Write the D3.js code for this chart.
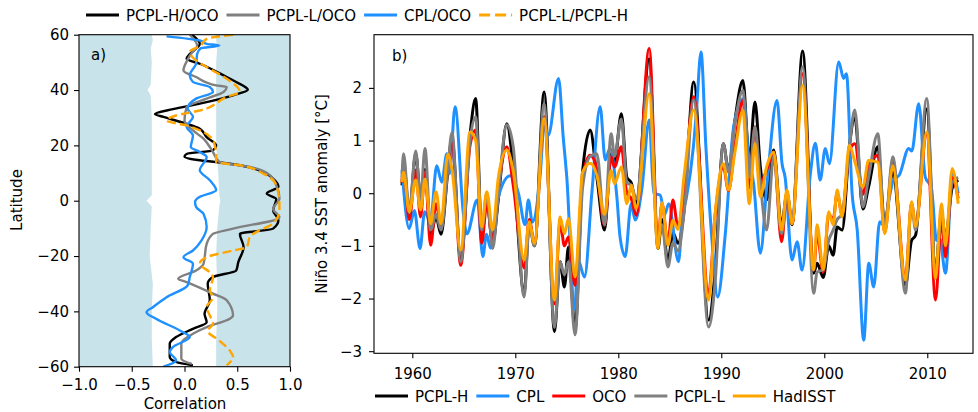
<!DOCTYPE html>
<html>
<head>
<meta charset="utf-8">
<script src="https://cdn.jsdelivr.net/npm/d3@7"></script>
<style>
  body { margin: 0; background: #fff; }
  text { font-family: "DejaVu Sans", sans-serif; }
</style>
</head>
<body>
<svg id="fig" width="978" height="412"></svg>
<script>
// ---- panel a: correlation vs latitude ----
var shadeLat = [-60, -50, -40, -30, -20, -10, -2, 0, 2, 10, 20, 30, 38, 40, 42, 50, 55, 58, 60];
var shadeLo = [-0.30, -0.31, -0.31, -0.30, -0.33, -0.32, -0.31, -0.36, -0.31, -0.31, -0.31, -0.31, -0.32, -0.35, -0.32, -0.31, -0.32, -0.30, -0.31];
var shadeHi = [0.30, 0.30, 0.31, 0.31, 0.30, 0.31, 0.33, 0.34, 0.33, 0.32, 0.30, 0.30, 0.30, 0.30, 0.30, 0.30, 0.31, 0.30, 0.30];

var latHO = [60, 56.7, 53, 51.3, 49.5, 44.7, 42.9, 40.1, 38.1, 35.1, 33.1, 31.3, 30.3, 27.8, 26, 23, 20, 18.2, 16.9, 16, 14.6, 14, 12.8, 10.4, 8, 5, 2.6, 0.6, -3.5, -7.1, -10.1, -12, -16.8, -22.2, -25.2, -27.6, -30, -36, -40.9, -43.9, -46.3, -49.3, -51.7, -56.5, -58.3, -59.5];
var corrHO = [0.07, 0.145, 0.05, 0.02, 0.145, 0.40, 0.49, 0.60, 0.46, 0.145, -0.11, -0.28, -0.20, 0.02, 0.145, 0.21, 0.30, 0.27, 0.02, 0.0, 0.145, 0.30, 0.525, 0.746, 0.84, 0.89, 0.78, 0.87, 0.84, 0.89, 0.84, 0.525, 0.56, 0.51, 0.49, 0.27, 0.22, 0.24, 0.19, 0.21, 0.08, -0.08, -0.14, -0.14, -0.08, 0.08];

var latLO = [60, 56, 53, 51, 47.1, 44.7, 41.7, 41.1, 39.3, 36.9, 33.8, 29, 25.4, 22.4, 19.4, 17.6, 14, 12.2, 9.2, 5.6, 0.8, -3, -6, -10.1, -12, -15.6, -22.8, -25.2, -28.2, -29.4, -33.6, -36, -41.5, -42.7, -45.7, -48.1, -51.7, -57.1, -59];
var corrLO = [0.05, 0.12, 0.06, 0.03, -0.01, 0.11, 0.30, 0.40, 0.37, 0.21, 0.02, 0.0, 0.08, 0.18, 0.24, 0.27, 0.33, 0.62, 0.81, 0.87, 0.90, 0.84, 0.90, 0.46, 0.27, 0.21, 0.18, 0.11, -0.06, 0.02, 0.27, 0.40, 0.46, 0.43, 0.21, 0.08, -0.03, -0.03, 0.07];

var latCO = [59.4, 57.9, 56.7, 56.1, 55, 53, 49.5, 45.3, 42.9, 41.1, 39.3, 36.9, 33.3, 30.3, 26.7, 23.6, 19.4, 17.6, 15.8, 11.0, 7.4, 3.8, 1.4, -0.4, -2.3, -4.7, -9.5, -14.4, -18, -20.4, -22.8, -27.6, -30.6, -34.9, -38.5, -40.3, -42.7, -46.9, -49.3, -52.9, -54.7, -57.7, -60];
var corrCO = [-0.17, 0.145, 0.21, 0.33, 0.15, 0.12, 0.11, 0.05, 0.08, 0.24, 0.27, 0.11, 0.03, 0.08, 0.02, 0.08, 0.06, 0.145, 0.21, 0.145, 0.24, 0.30, 0.145, 0.10, 0.11, 0.18, 0.21, 0.16, 0.08, -0.01, 0.08, 0.05, 0.03, -0.17, -0.30, -0.36, -0.27, -0.045, 0.05, -0.11, -0.14, -0.08, -0.20];

var latLH = [60, 58.5, 56, 53.8, 51, 48.3, 44.1, 39.3, 37.5, 32.6, 30.8, 29, 27.2, 24.8, 21.8, 19.4, 17, 14, 12.8, 9.8, 5.6, -1.5, -3.5, -8.3, -10.7, -13.1, -16.8, -18, -20.4, -22.8, -25.9, -27.6, -32.5, -34.9, -38.5, -41.5, -44.5, -47, -50.6, -54.2, -56.5, -59.5];
var corrLH = [0.46, 0.21, 0.15, 0.05, 0.10, 0.21, 0.40, 0.525, 0.40, 0.145, -0.08, -0.17, 0.02, 0.18, 0.27, 0.29, 0.30, 0.30, 0.525, 0.746, 0.87, 0.90, 0.90, 0.84, 0.71, 0.62, 0.59, 0.46, 0.21, 0.145, 0.24, 0.27, 0.24, 0.27, 0.21, 0.24, 0.27, 0.22, 0.33, 0.43, 0.46, 0.40];

// ---- panel b: Nino 3.4 SST anomaly ----
var years = [1959.0, 1959.15, 1959.7, 1960.33, 1960.8, 1961.23, 1961.78, 1962.3, 1962.79, 1963.44, 1963.85, 1964.7, 1965.6, 1966.15, 1966.74, 1967.23, 1967.8, 1968.36, 1969.17, 1969.8,
  1970.86, 1971.35, 1971.86, 1972.8, 1973.8, 1974.35, 1974.77, 1975.16, 1975.8, 1976.53, 1977.27, 1977.92, 1978.66, 1979.31, 1979.63, 1980.3, 1980.83, 1981.25, 1981.74,
  1983.0, 1983.85, 1984.24, 1984.82, 1985.3, 1985.8, 1986.4, 1987.32, 1988.77, 1989.4, 1990.2, 1990.7, 1991.3, 1992.1, 1992.72, 1993.27, 1993.79, 1994.4,
  1995.09, 1995.85, 1996.38, 1996.87, 1997.9, 1998.97, 1999.3, 1999.9, 2000.43, 2000.86, 2001.25, 2001.73, 2002.44, 2002.96, 2003.75, 2004.3,
  2005.2, 2005.87, 2006.65, 2007.88, 2008.47, 2008.86, 2009.95, 2010.8, 2011.38, 2011.77, 2012.42, 2013.0];
var hadisst = [0.21, 0.40, -0.35, 0.25, -0.32, 0.27, -0.58, 0.03, -0.58, 0.74, 0.45, -1.08, 1.16, 1.00, -0.64, 0.03, -0.70, 0.31, 0.82, 0.42,
  -1.27, -0.54, -0.95, 1.42, -2.03, -0.45, -0.77, -0.48, -1.59, 0.40, 0.57, 0.34, -0.40, 0.43, 0.18, 0.50, -0.20, 0.15, -0.29,
  1.89, -1.05, -0.18, -0.99, -0.52, -0.69, 0.35, 1.58, -2.03, -0.40, 0.56, 0.06, 0.75, 1.57, -0.20, 0.94, -0.07, 0.50,
  0.78, -0.70, 0.06, -0.58, 2.05, -1.46, -0.60, -1.45, -0.35, -0.60, 0.06, -0.45, 0.91, 0.60, 0.12, 0.62,
  0.59, -0.77, 0.52, -1.65, -0.16, -0.63, 1.16, -1.62, -0.20, -1.00, 0.47, -0.20];
var pcplH = [0.15, 0.60, -0.40, 0.75, -0.07, 0.45, -0.77, -0.45, -0.78, 0.40, 1.05, -1.25, 1.10, 1.80, -0.80, -0.10, -0.95, -0.10, 1.32, 0.50,
  -1.90, -0.55, -1.00, 1.92, -2.63, -1.30, -1.78, -1.02, -2.60, 0.40, 1.20, 0.30, -0.70, 0.75, 0.60, 1.51, 0.30, 0.20, -0.20,
  2.55, -1.05, -0.50, -1.30, -0.75, -0.95, -0.30, 2.11, -2.41, -1.49, 0.94, 0.43, 1.35, 2.14, 0.63, 1.73, 0.50, -0.13,
  0.82, -0.61, 0.00, -0.60, 2.70, -1.52, -1.33, -1.60, -1.00, -1.18, -0.64, -0.70, 0.90, 1.45, -0.30, 0.12,
  0.88, -0.60, 0.40, -1.75, -0.90, -0.80, 1.60, -1.45, -0.40, -0.85, 0.10, 0.25];
var pcplL = [0.30, 0.75, -0.37, 0.80, -0.13, 0.85, -0.70, -0.40, -0.70, 0.45, 1.15, -1.30, 1.00, 1.45, -0.70, 0.00, -1.05, 0.00, 1.30, 0.88,
  -1.97, -0.60, -1.00, 1.70, -2.55, -1.30, -1.55, -1.30, -2.69, 0.10, 0.70, 0.75, -0.60, 1.13, 0.70, 1.41, 0.20, 0.15, -0.10,
  2.21, -0.90, -0.60, -1.40, -0.95, -1.10, -0.35, 1.77, -2.54, -1.70, 0.94, 0.40, 1.29, 1.95, 0.30, 1.26, 0.20, -0.70,
  0.70, -0.77, -0.01, -0.50, 2.40, -1.90, -1.50, -1.45, -0.90, -0.70, -0.50, -0.40, 0.90, 1.58, -0.26, 0.30,
  1.13, -0.70, 0.69, -1.90, -0.20, -0.70, 1.80, -1.50, -0.35, -0.90, 0.20, 0.30];
var oco = [0.20, 0.50, -0.50, 0.44, -0.45, 0.40, -0.99, -0.20, -0.60, 0.50, 0.95, -1.37, 0.90, 1.20, -0.95, -0.20, -0.90, 0.10, 0.88, 0.15,
  -1.42, -0.50, -0.95, 1.45, -2.10, -0.55, -1.00, -0.83, -1.75, 0.30, 0.72, 0.45, -0.61, 0.69, 0.50, 0.88, 0.00, -0.10, -0.42,
  2.75, -0.90, -0.20, -0.95, -0.13, -0.65, 0.10, 1.83, -1.90, -0.42, 0.50, 0.05, 0.85, 1.76, 0.10, 1.26, 0.20, 0.44,
  0.78, -0.92, 0.00, -0.58, 2.27, -1.46, -0.77, -1.50, -0.40, -0.50, 0.00, -0.40, 0.80, 0.94, -0.02, 0.50,
  0.72, -0.75, 0.60, -1.62, -0.20, -0.60, 1.13, -2.03, -0.50, -1.21, 0.30, -0.10];

var cplYears = [1959.0, 1959.7, 1960.2, 1960.75, 1961.2, 1961.75, 1962.37, 1962.86, 1963.35, 1963.6, 1964.15, 1964.96, 1965.3, 1966.3, 1966.85, 1967.2, 1967.6, 1968.36, 1969.5, 1970.3,
  1970.95, 1971.27, 1971.65, 1972.4, 1972.8, 1973.2, 1974.2, 1974.65, 1975.0, 1975.75, 1976.1, 1976.72, 1977.43, 1978.24, 1978.73, 1979.2, 1979.86, 1980.17, 1980.67,
  1981.25, 1981.64, 1982.3, 1983.0, 1983.45, 1984.07, 1984.5, 1984.9, 1985.85, 1986.2, 1986.6, 1987.3, 1987.6, 1988.03, 1988.5, 1989.1, 1989.65,
  1990.39, 1991.2, 1992.17, 1992.6, 1993.14, 1993.79, 1994.44, 1995.41, 1995.9, 1996.2, 1996.87, 1997.36, 1997.84, 1998.65, 1999.13, 1999.6,
  2000.1, 2000.5, 2001.4, 2001.88, 2002.15, 2002.7, 2003.2, 2003.83, 2004.32, 2004.8, 2005.38, 2005.7, 2006.7, 2007.3, 2008.2, 2008.5,
  2009.17, 2009.8, 2010.4, 2010.9, 2011.2, 2011.77, 2012.45, 2013.0];
var cpl = [0.44, -0.67, -0.33, -1.05, -0.35, -0.55, 0.52, 0.21, 0.75, 0.37, 1.64, -0.39, -0.77, -0.13, -1.20, -0.78, -1.04, -0.07, 0.33, 0.00,
  -0.60, -0.13, -0.55, 0.31, 1.26, 1.10, 2.18, 1.07, 0.30, -2.20, -1.27, -1.59, 0.00, 1.64, 0.63, 0.86, -0.07, -0.83, -1.20,
  -0.20, -0.51, 0.10, 1.39, 0.00, -0.04, -0.40, -0.20, -1.30, -0.45, -0.10, 0.90, 1.60, 2.68, 0.90, -0.90, -1.97,
  -0.77, 1.26, 1.80, 0.80, 0.18, -1.14, 0.18, 1.76, 0.56, 0.30, -1.27, -0.92, -1.46, 0.37, 0.95, 0.25,
  0.85, 0.56, 2.49, 2.18, 2.27, 0.00, -0.70, -2.79, -1.33, -1.78, -0.54, -0.60, 0.24, 0.35, 0.85, 0.80,
  1.70, 0.31, 0.10, -0.90, -0.85, -1.52, 0.40, 0.00];

var xTicksA = [-1, -0.5, 0, 0.5, 1];
var yTicksA = [-60, -40, -20, 0, 20, 40, 60];
var xTicksB = [1960, 1970, 1980, 1990, 2000, 2010];
var yTicksB = [-3, -2, -1, 0, 1, 2];

var fs = 15;
var svg = d3.select("#fig");

function pairs(xs, ys) {
    return xs.map(function (x, i) { return [x, ys[i]]; });
}

function styleAxis(g) {
    g.select(".domain").remove();
    g.selectAll(".tick line").attr("stroke", "#000").attr("stroke-width", 1.1);
    g.selectAll(".tick text").attr("fill", "#000")
        .style("font-family", '"DejaVu Sans", sans-serif').style("font-size", fs + "px");
}

// ================= panel a =================
var xA = d3.scaleLinear().domain([-1, 1]).range([79, 290]);
var yA = d3.scaleLinear().domain([-60, 60]).range([366.7, 34.7]);

svg.append("clipPath").attr("id", "clipA").append("rect")
    .attr("x", 79).attr("y", 34.7).attr("width", 211).attr("height", 332);

var gA = svg.append("g");
var plotA = gA.append("g").attr("clip-path", "url(#clipA)");

var shade = shadeLat.map(function (l, i) { return { lat: l, lo: shadeLo[i], hi: shadeHi[i] }; });
plotA.append("path").datum(shade)
    .attr("d", d3.area().y(function (d) { return yA(d.lat); })
        .x0(xA(-1)).x1(function (d) { return xA(d.lo); }))
    .attr("fill", "#c8e4ea");
plotA.append("path").datum(shade)
    .attr("d", d3.area().y(function (d) { return yA(d.lat); })
        .x0(function (d) { return xA(d.hi); }).x1(xA(1)))
    .attr("fill", "#c8e4ea");

var lineA = d3.line()
    .x(function (d) { return xA(d[1]); })
    .y(function (d) { return yA(d[0]); })
    .curve(d3.curveMonotoneY);

var seriesA = [
    { lat: latHO, corr: corrHO, color: "#000000", dash: null },
    { lat: latLO, corr: corrLO, color: "#808080", dash: null },
    { lat: latCO, corr: corrCO, color: "#1e90ff", dash: null },
    { lat: latLH, corr: corrLH, color: "#ffa500", dash: "9,4" }
];
seriesA.forEach(function (s) {
    plotA.append("path").datum(pairs(s.lat, s.corr))
        .attr("d", lineA)
        .attr("fill", "none")
        .attr("stroke", s.color)
        .attr("stroke-width", 2.4)
        .attr("stroke-dasharray", s.dash);
});

gA.append("g").attr("transform", "translate(0,366.7)")
    .call(d3.axisBottom(xA).tickValues(xTicksA).tickFormat(d3.format(".1f")).tickSize(5).tickPadding(8))
    .call(styleAxis);
gA.append("g").attr("transform", "translate(79,0)")
    .call(d3.axisLeft(yA).tickValues(yTicksA).tickSize(5).tickPadding(5))
    .call(styleAxis);

gA.append("rect").attr("x", 79).attr("y", 34.7).attr("width", 211).attr("height", 332)
    .attr("fill", "none").attr("stroke", "#000").attr("stroke-width", 1.1);

gA.append("text").attr("x", 91).attr("y", 60).attr("font-size", fs).text("a)");
gA.append("text").attr("x", 185).attr("y", 409).attr("text-anchor", "middle")
    .attr("font-size", fs).text("Correlation");
gA.append("text").attr("transform", "translate(22,200) rotate(-90)")
    .attr("text-anchor", "middle").attr("font-size", fs).text("Latitude");

// ================= panel b =================
var xB = d3.scaleLinear().domain([1956.28, 2014.44]).range([374, 973]);
var yB = d3.scaleLinear().domain([-3.04, 3.01]).range([353.3, 34.7]);

svg.append("clipPath").attr("id", "clipB").append("rect")
    .attr("x", 374).attr("y", 34.7).attr("width", 599).attr("height", 318.6);

var gB = svg.append("g");
var plotB = gB.append("g").attr("clip-path", "url(#clipB)");

var lineB = d3.line()
    .x(function (d) { return xB(d[0]); })
    .y(function (d) { return yB(d[1]); })
    .curve(d3.curveMonotoneX);

var seriesB = [
    { name: "PCPL-H", t: years, v: pcplH, color: "#000000" },
    { name: "CPL", t: cplYears, v: cpl, color: "#1e90ff" },
    { name: "OCO", t: years, v: oco, color: "#ff0000" },
    { name: "PCPL-L", t: years, v: pcplL, color: "#808080" },
    { name: "HadISST", t: years, v: hadisst, color: "#ffa500" }
];
seriesB.forEach(function (s) {
    plotB.append("path").datum(pairs(s.t, s.v))
        .attr("d", lineB)
        .attr("fill", "none")
        .attr("stroke", s.color)
        .attr("stroke-width", 3)
        .attr("stroke-linejoin", "round");
});

gB.append("g").attr("transform", "translate(0,353.3)")
    .call(d3.axisBottom(xB).tickValues(xTicksB).tickFormat(d3.format("d")).tickSize(5).tickPadding(10))
    .call(styleAxis);
gB.append("g").attr("transform", "translate(374,0)")
    .call(d3.axisLeft(yB).tickValues(yTicksB).tickFormat(d3.format("d")).tickSize(5).tickPadding(7))
    .call(styleAxis);

gB.append("rect").attr("x", 374).attr("y", 34.7).attr("width", 599).attr("height", 318.6)
    .attr("fill", "none").attr("stroke", "#000").attr("stroke-width", 1.1);

gB.append("text").attr("x", 392).attr("y", 61).attr("font-size", fs).text("b)");
gB.append("text").attr("transform", "translate(327,194) rotate(-90)")
    .attr("text-anchor", "middle").attr("font-size", fs).text("Niño 3.4 SST anomaly [°C]");

// ================= legends =================
function legend(items, x0, y) {
    var g = svg.append("g");
    var x = x0;
    items.forEach(function (it) {
        g.append("line").attr("x1", x).attr("x2", x + 33).attr("y1", y).attr("y2", y)
            .attr("stroke", it.color).attr("stroke-width", 3)
            .attr("stroke-dasharray", it.dash || null);
        var t = g.append("text").attr("x", x + 40).attr("y", y + 5.5)
            .attr("font-size", fs).text(it.name);
        x = x + 40 + t.node().getComputedTextLength() + 8;
    });
}

legend([
    { name: "PCPL-H/OCO", color: "#000000" },
    { name: "PCPL-L/OCO", color: "#808080" },
    { name: "CPL/OCO", color: "#1e90ff" },
    { name: "PCPL-L/PCPL-H", color: "#ffa500", dash: "11,5" }
], 86, 15);

legend(seriesB.map(function (s) { return { name: s.name, color: s.color }; }), 375, 396);
</script>
</body>
</html>
